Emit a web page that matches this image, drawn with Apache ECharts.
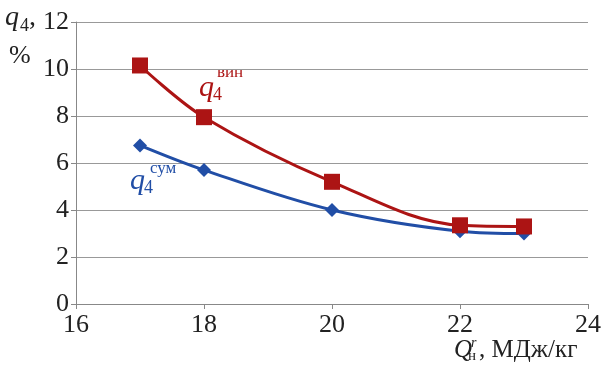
<!DOCTYPE html>
<html>
<head>
<meta charset="utf-8">
<style>
  html, body { margin: 0; padding: 0; background: #fff; }
  #chart { width: 604px; height: 374px; }
</style>
<script src="https://cdn.jsdelivr.net/npm/echarts@6/dist/echarts.min.js"></script>
</head>
<body>
<div id="chart"></div>
<script>
// Heat value of fuel, MJ/kg
const heatValues = [17, 18, 20, 22, 23];
// Unburnt-carbon loss q4, %
const q4Vin = [10.15, 7.95, 5.2, 3.35, 3.3];
const q4Sum = [6.75, 5.7, 4.0, 3.1, 3.0];
const xTicks = [16, 18, 20, 22, 24];
const yTicks = [0, 2, 4, 6, 8, 10, 12];

const SERIF = "'Liberation Serif', 'Times New Roman', Tinos, Times, serif";
const RED = '#ac1414';
const BLUE = '#214ea6';
const TEXT = '#222';

const chart = echarts.init(document.getElementById('chart'), null, { renderer: 'canvas' });

function txt(x, y, s, size, color, italic) {
  return {
    type: 'text', left: x, top: y, silent: true,
    style: {
      text: s, fill: color,
      fontFamily: SERIF, fontSize: size, fontStyle: italic ? 'italic' : 'normal'
    }
  };
}

chart.setOption({
  animation: false,
  backgroundColor: '#fff',
  grid: { left: 76, right: 16, top: 22, bottom: 70 },
  xAxis: {
    type: 'value',
    min: xTicks[0], max: xTicks[xTicks.length - 1], interval: 2,
    axisLine: { show: true, lineStyle: { color: '#888', width: 1 } },
    axisTick: { show: true, length: 5, lineStyle: { color: '#888' } },
    splitLine: { show: false },
    axisLabel: { color: TEXT, fontFamily: SERIF, fontSize: 26, margin: 8 }
  },
  yAxis: {
    type: 'value',
    min: yTicks[0], max: yTicks[yTicks.length - 1], interval: 2,
    axisLine: { show: true, lineStyle: { color: '#888', width: 1 } },
    axisTick: { show: true, length: 5, lineStyle: { color: '#888' } },
    splitLine: { show: true, lineStyle: { color: '#999', width: 1 } },
    axisLabel: { color: TEXT, fontFamily: SERIF, fontSize: 26, margin: 7 }
  },
  series: [
    {
      name: 'q4 вин', type: 'line', smooth: 0.35,
      data: heatValues.map((x, i) => [x, q4Vin[i]]),
      symbol: 'rect', symbolSize: 16,
      lineStyle: { color: RED, width: 3 },
      itemStyle: { color: RED },
      z: 3
    },
    {
      name: 'q4 сум', type: 'line', smooth: 0.35,
      data: heatValues.map((x, i) => [x, q4Sum[i]]),
      symbol: 'diamond', symbolSize: 14,
      lineStyle: { color: BLUE, width: 3 },
      itemStyle: { color: BLUE },
      z: 2
    }
  ],
  graphic: [
    // y-axis title: q4, %
    txt(5, 4, 'q', 28, TEXT, true),
    txt(20, 17, '4', 18, TEXT, false),
    txt(29, 4, ',', 28, TEXT, false),
    txt(9, 43, '%', 26, TEXT, false),
    // x-axis title: Q^r_н, МДж/кг
    txt(454, 338, 'Q', 25, TEXT, true),
    txt(471, 336, 'r', 14, TEXT, true),
    txt(468, 349, 'н', 15, TEXT, false),
    txt(479, 338, ', МДж/кг', 25, TEXT, false),
    // series captions
    txt(199, 73, 'q', 30, RED, true),
    txt(213, 86, '4', 18, RED, false),
    txt(217, 64, 'вин', 17, RED, false),
    txt(130, 166, 'q', 30, BLUE, true),
    txt(144, 179, '4', 18, BLUE, false),
    txt(150, 160, 'сум', 17, BLUE, false)
  ]
});
</script>
</body>
</html>
